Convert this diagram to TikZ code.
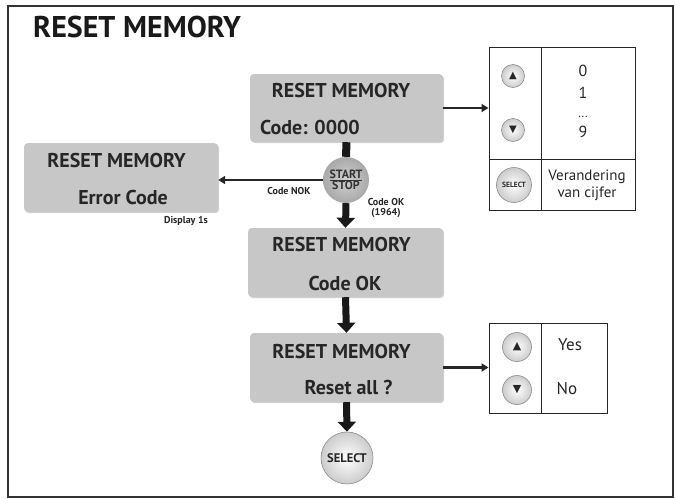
\documentclass[tikz,border=0pt]{standalone}
\usepackage{fontspec}
\setmainfont{PT Sans}
\newfontfamily\symfont{DejaVu Sans}
\usetikzlibrary{arrows.meta, shadows, positioning}

\begin{document}
\begin{tikzpicture}[x=1pt, y=-1pt,
    screen/.style={rounded corners=4pt, fill=black!22, draw=none,
        drop shadow={shadow xshift=1.2pt, shadow yshift=-1.2pt, opacity=.3, fill=black!60}},
    scrtext/.style={text=black!85, font=\fontsize{20}{22}\selectfont\bfseries, inner sep=0pt},
    note/.style={text=black!85, font=\fontsize{10}{10.5}\selectfont\bfseries, align=center, inner sep=0pt},
    cell/.style={text=black!85, font=\fontsize{16}{18}\selectfont, align=center, inner sep=0pt},
    btn/.style={circle, draw=black!45, line width=0.6pt, inner sep=0pt,
        inner color=white, outer color=black!20, text=black!85},
    bigarrow/.style={line width=7pt, -{Triangle[width=18pt, length=10pt]}, black!90},
    thinarrow/.style={line width=2.4pt, -{Triangle[width=8pt, length=7pt]}, black!85}
]
\useasboundingbox (0,0) rectangle (676,498);
\draw[line width=2pt, black!80] (8,6) rectangle (673,497);

% title
\node[anchor=base west, inner sep=0pt, text=black!90,
      font=\fontsize{30}{32}\selectfont\bfseries] (title) at (33,37) {RESET MEMORY};

% screens
\node[screen, minimum width=193pt, minimum height=68pt] (code) at (346.5,108) {};
\node[screen, minimum width=194pt, minimum height=69pt] (err) at (121,177.5) {};
\node[screen, minimum width=195pt, minimum height=69pt] (ok) at (345.5,262.5) {};
\node[screen, minimum width=193pt, minimum height=69pt] (reset) at (346.5,367.5) {};

\node[scrtext] (code1) at (341,90) {RESET MEMORY};
\node[scrtext] (code2) at (310,127) {Code: 0000};
\node[scrtext] (err1) at (116.5,160) {RESET MEMORY};
\node[scrtext] (err2) at (123,197) {Error Code};
\node[scrtext] (ok1) at (341.5,244) {RESET MEMORY};
\node[scrtext] (ok2) at (345,283) {Code OK};
\node[scrtext] (reset1) at (341.5,351) {RESET MEMORY};
\node[scrtext] (reset2) at (348.5,387) {Reset all ?};

% start / stop and select buttons
\node[circle, minimum size=46pt, inner sep=0pt, inner color=black!18, outer color=black!34,
      text=black!80, align=center, font=\fontsize{12}{12.5}\selectfont\bfseries] (start) at (346,180)
      {\underline{START}\\[-1pt]STOP};
\node[btn, minimum size=52pt, font=\fontsize{12.5}{13}\selectfont\bfseries] (sel) at (347,458) {SELECT};

% tables
\node[draw=black!85, line width=1pt, minimum width=146pt, minimum height=163pt] (tab1) at (562,128.5) {};
\draw[line width=1pt, black!85] (541,47) -- (541,210) (489,159) -- (635,159);
\node[draw=black!85, line width=1pt, minimum width=118pt, minimum height=90pt] (tab2) at (548,368) {};
\draw[line width=1pt, black!85] (541,323) -- (541,413);

\node[btn, minimum size=23pt, font=\symfont\fontsize{10}{11}\selectfont] (up1) at (513,76) {▲};
\node[btn, minimum size=23pt, font=\symfont\fontsize{10}{11}\selectfont] (dn1) at (513,130) {▼};
\node[btn, minimum size=35pt, font=\fontsize{7.5}{8}\selectfont\bfseries] (sl1) at (514,185) {SELECT};
\node[btn, minimum size=29pt, font=\symfont\fontsize{11}{12}\selectfont] (up2) at (517,347) {▲};
\node[btn, minimum size=29pt, font=\symfont\fontsize{11}{12}\selectfont] (dn2) at (517,390) {▼};

\node[cell, anchor=base] (d0) at (583,76) {0};
\node[cell, anchor=base] (d1) at (583,98) {1};
\node[cell, anchor=base, font=\fontsize{12}{14}\selectfont] (dd) at (583,117) {...};
\node[cell, anchor=base] (d9) at (583,137) {9};
\node[cell, font=\fontsize{15}{17}\selectfont] (change) at (587,185) {Verandering\\van cijfer};
\node[cell, font=\fontsize{17}{19}\selectfont] (yes) at (570,345) {Yes};
\node[cell, font=\fontsize{17}{19}\selectfont] (no) at (567,389) {No};

% labels
\node[note] (nok) at (289,191) {Code NOK};
\node[note] (okcode) at (386,208) {Code OK\\(1964)};
\node[note] (disp) at (186,221) {Display 1s};

% connectors
\draw[line width=8pt, black!90] (code.south) -- (start.north);
\draw[bigarrow] (start.south) -- (ok.north);
\draw[bigarrow] (ok.south) -- (reset.north);
\draw[bigarrow] (reset.south) -- (sel.north);
\draw[thinarrow] (start.west) -- (start.west -| err.east);
\draw[thinarrow] (code.east) -- (code.east -| tab1.west);
\draw[thinarrow] (reset.east) -- (reset.east -| tab2.west);
\end{tikzpicture}
\end{document}
